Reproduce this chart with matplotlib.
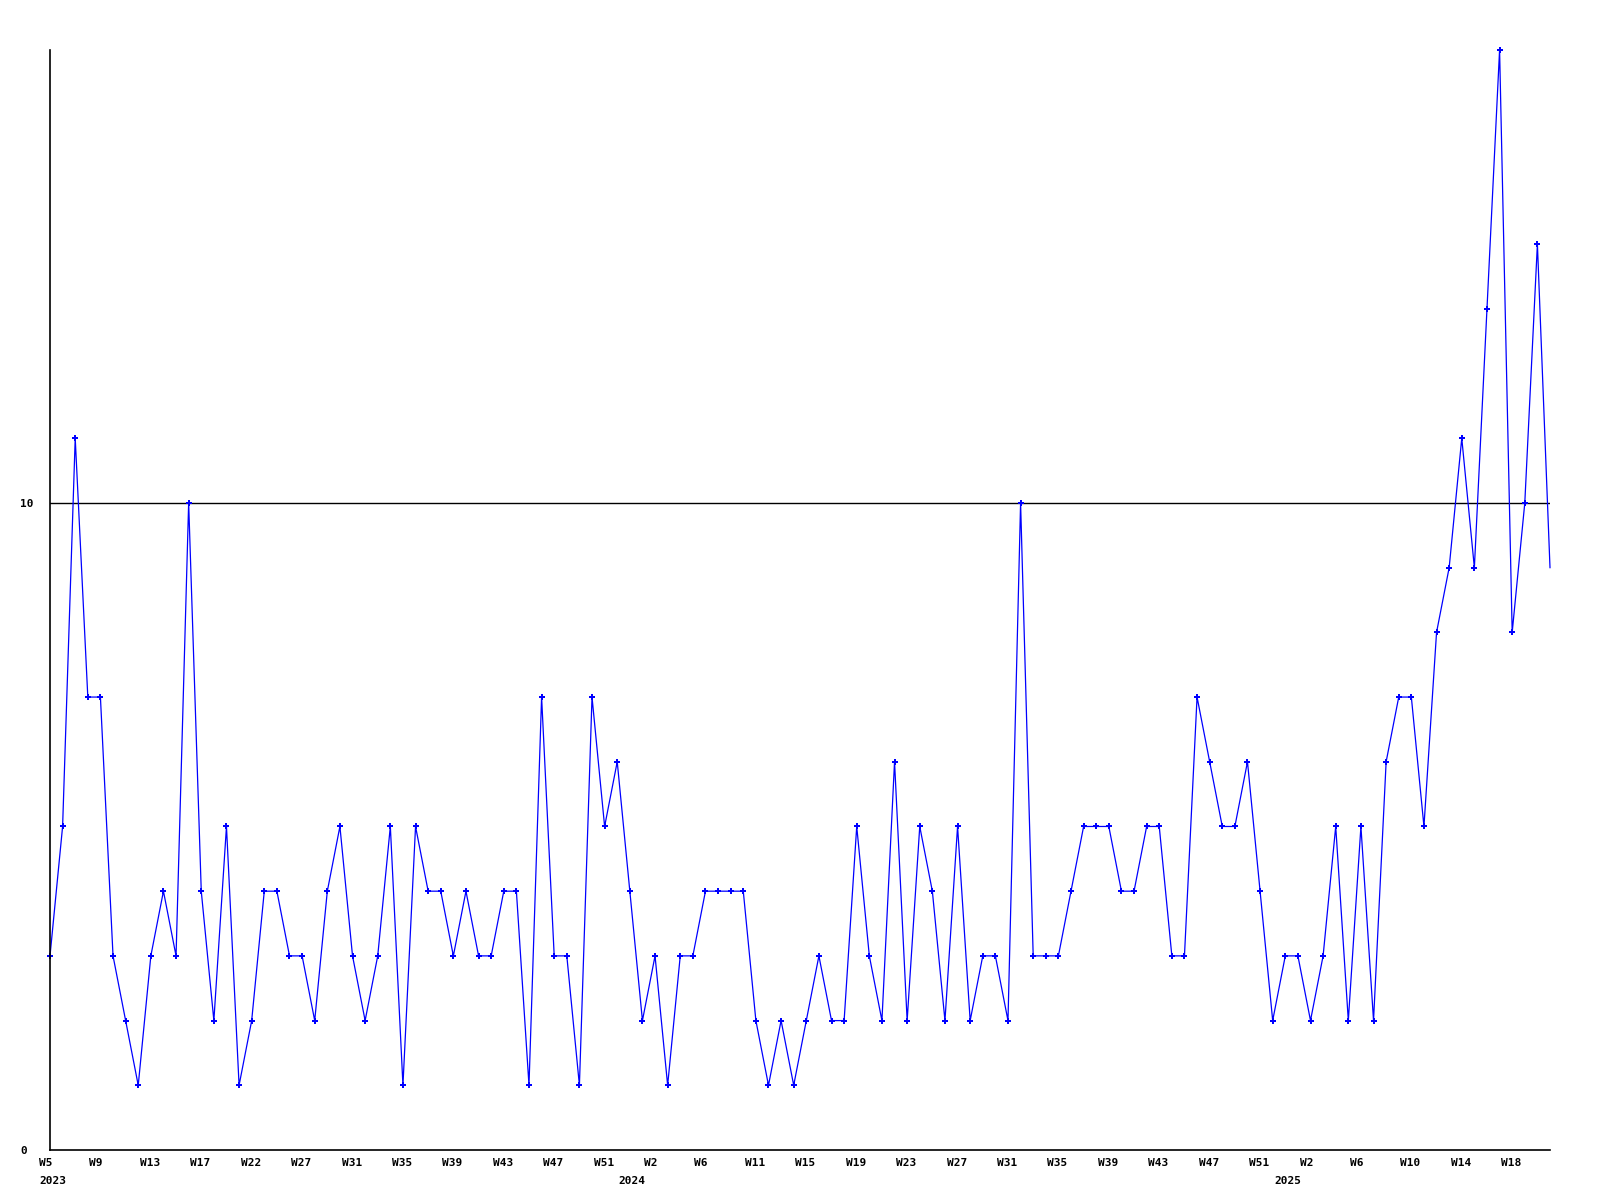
import matplotlib
matplotlib.use("Agg")
import matplotlib.pyplot as plt
from matplotlib.transforms import ScaledTranslation

# weekly values, 2023 W5 onwards
values = [3, 5, 11, 7, 7, 3, 2, 1, 3, 4,
          3, 10, 4, 2, 5, 1, 2, 4, 4, 3,
          3, 2, 4, 5, 3, 2, 3, 5, 1, 5,
          4, 4, 3, 4, 3, 3, 4, 4, 1, 7,
          3, 3, 1, 7, 5, 6, 4, 2, 3, 1,
          3, 3, 4, 4, 4, 4, 2, 1, 2, 1,
          2, 3, 2, 2, 5, 3, 2, 6, 2, 5,
          4, 2, 5, 2, 3, 3, 2, 10, 3, 3,
          3, 4, 5, 5, 5, 4, 4, 5, 5, 3,
          3, 7, 6, 5, 5, 6, 4, 2, 3, 3,
          2, 3, 5, 2, 5, 2, 6, 7, 7, 5,
          8, 9, 11, 9, 13, 17, 8, 10, 14, 9]

week_labels = ["W5", "W9", "W13", "W17", "W22", "W27", "W31", "W35", "W39", "W43",
               "W47", "W51", "W2", "W6", "W11", "W15", "W19", "W23", "W27", "W31",
               "W35", "W39", "W43", "W47", "W51", "W2", "W6", "W10", "W14", "W18"]
week_label_idx = list(range(0, 4 * len(week_labels), 4))

years = ["2023", "2024", "2025"]
year_idx = [0, 46, 98]

y_ticks = [0, 10]

W, H = 1600, 1200
fig = plt.figure(figsize=(16, 12), dpi=100)
left, right, top, bottom = 50, 1550, 50, 1150
ax = fig.add_axes([left / W, 1 - bottom / H, (right - left) / W, (bottom - top) / H])

x = list(range(len(values)))
ax.plot(x, values, color="#0000ff", lw=0.9, marker="P", ms=4, mew=0,
        markevery=list(range(len(values) - 1)), clip_on=False)
ax.axhline(10, color="black", lw=1, zorder=0)

ax.set_xlim(0, len(values) - 1)
ax.set_ylim(0, 17)

for s in ["top", "right"]:
    ax.spines[s].set_visible(False)
for s in ["left", "bottom"]:
    ax.spines[s].set_color("black")
    ax.spines[s].set_linewidth(1.2)

font = dict(family="DejaVu Sans Mono", weight="bold", size=8)

ax.set_yticks(y_ticks)
ax.set_yticklabels([str(v) for v in y_ticks], **font)
ax.tick_params(axis="y", length=0, pad=21.6)
for lab in ax.get_yticklabels():
    lab.set_ha("left")

ax.set_xticks(week_label_idx)
ax.set_xticklabels(week_labels, **font)
ax.tick_params(axis="x", length=0, pad=6)
off = ScaledTranslation(-11 / 100, 0, fig.dpi_scale_trans)
for lab in ax.get_xticklabels():
    lab.set_ha("left")
    lab.set_transform(lab.get_transform() + off)

trans = ax.get_xaxis_transform() + off
for yr, i in zip(years, year_idx):
    ax.text(i, -31 / 1100, yr, transform=trans, ha="left", va="center", **font)

fig.savefig("out.png", dpi=100, facecolor="white")
